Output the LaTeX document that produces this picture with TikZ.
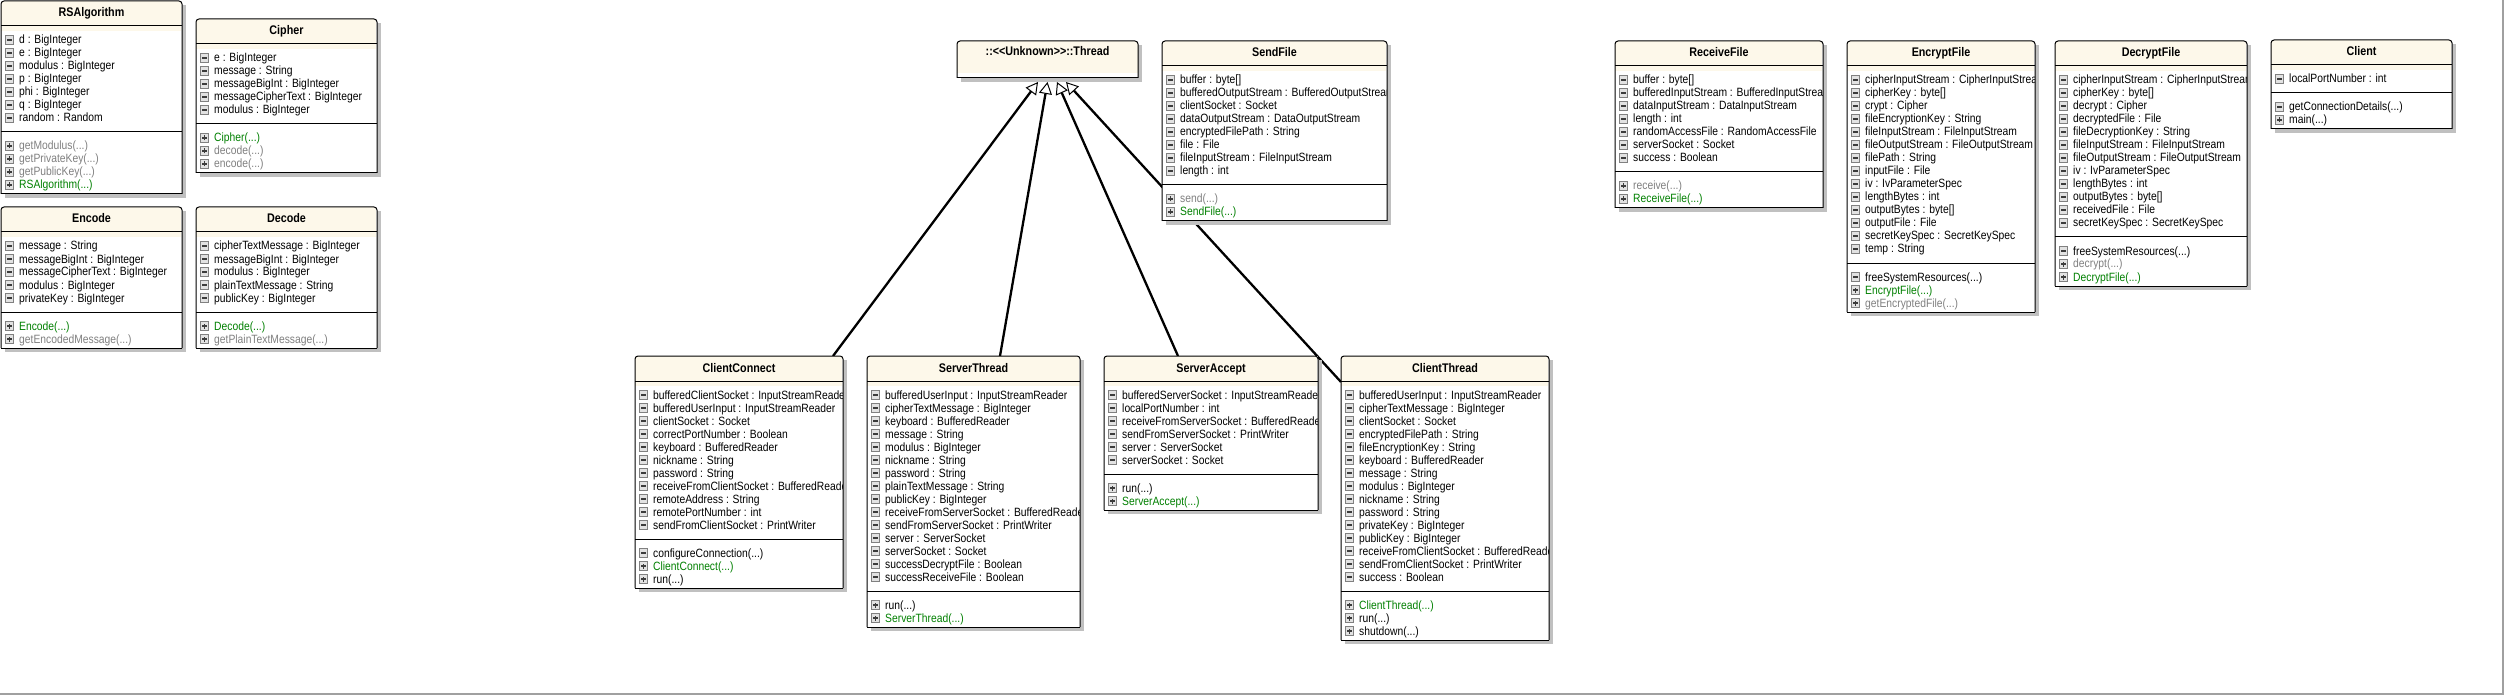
\documentclass[tikz,border=0pt]{standalone}
\usepackage{fontspec}
\setmainfont{Liberation Sans}[FakeStretch=0.86]
\usetikzlibrary{arrows.meta, backgrounds}

\definecolor{titlefill}{RGB}{253,248,234}
\definecolor{shadowgray}{RGB}{192,192,192}
\definecolor{mgreen}{RGB}{0,128,0}
\definecolor{mgray}{RGB}{128,128,128}
\definecolor{icondark}{RGB}{128,128,128}
\definecolor{iconfill}{RGB}{226,226,226}
\definecolor{signcol}{RGB}{60,60,60}
\definecolor{framegray}{RGB}{160,160,160}

\tikzset{
  classbox/.style={anchor=north west, fill=white, inner sep=0pt, outer sep=0pt},
  boxline/.style={draw=black, line width=1pt},
  titletext/.style={anchor=base, inner sep=0pt, font=\fontsize{12.5}{14}\selectfont\bfseries},
  member/.style={anchor=base west, inner sep=0pt, font=\fontsize{12}{14}\selectfont},
  iconm/.style={draw=icondark, fill=iconfill, line width=0.8pt, minimum size=8.5pt, inner sep=0pt,
    path picture={\draw[signcol, line width=1.2pt] ([xshift=-2.5pt]path picture bounding box.center) -- ([xshift=2.5pt]path picture bounding box.center);}},
  iconp/.style={draw=icondark, fill=iconfill, line width=0.8pt, minimum size=8.5pt, inner sep=0pt,
    path picture={\draw[signcol, line width=1.2pt] ([xshift=-2.5pt]path picture bounding box.center) -- ([xshift=2.5pt]path picture bounding box.center)
      ([yshift=-2.5pt]path picture bounding box.center) -- ([yshift=2.5pt]path picture bounding box.center);}},
  inherit/.style={line width=2.3pt, -{Triangle[line width=1pt, fill=white, length=12pt, width=13pt]}},
}

% argument dots of a method
\newcommand{\margs}{(...)}

% class box: name, left, top, width, title, attributes, methods (icon/colour/text)
\newcommand{\umlclass}[7]{%
  \foreach \tx [count=\k] in {#6} {\xdef\na{\k}}
  \foreach \tx [count=\k] in {#7} {\xdef\nm{\k}}
  \pgfmathsetmacro{\hh}{50+13*(\na+\nm)}
  \pgfmathsetmacro{\sy}{#3+40+13*\na}
  \fill[shadowgray] (#2+4,#3+4) rectangle (#2+#4+4,#3+\hh+4);
  \node[classbox, minimum width=#4pt, minimum height=\hh pt] (#1) at (#2,#3) {};
  \begin{scope}
    \clip[rounded corners=3pt] (#1.north west) rectangle ([xshift=-1pt]#1.south east);
    \fill[titlefill] (#1.north west) rectangle (#2+#4,#3+30);
    \node[titletext] (#1-title) at (#2+#4/2,#3+16) {#5};
    \foreach \tx [count=\k] in {#6} {
      \node[iconm] (#1-ia\k) at (#2+8.5,#3+26+13*\k) {};
      \node[member] (#1-a\k) at (#2+18,#3+30+13*\k) {\tx};
    }
    \foreach \ic/\col/\tx [count=\k] in {#7} {
      \node[icon\ic] (#1-im\k) at (#2+8.5,\sy+1+13*\k) {};
      \node[member, text=\col] (#1-m\k) at (#2+18,\sy+5+13*\k) {\tx};
    }
  \end{scope}
  \draw[boxline] (#2,#3+25) -- (#2+#4,#3+25);
  \draw[boxline] (#2,\sy) -- (#2+#4,\sy);
  \draw[boxline, rounded corners=3pt] (#1.south west) -- (#1.north west) -- (#1.north east) -- (#1.south east);
  \draw[boxline] (#1.south west) -- (#1.south east);
}

\begin{document}
\begin{tikzpicture}[x=1pt, y=-1pt]
  \useasboundingbox (0,0) rectangle (2506,695);

  % RSA classes
  \umlclass{RSAlgorithm}{1}{1}{181}{RSAlgorithm}
    {d : BigInteger, e : BigInteger, modulus : BigInteger, p : BigInteger, phi : BigInteger, q : BigInteger, random : Random}
    {p/mgray/getModulus\margs, p/mgray/getPrivateKey\margs, p/mgray/getPublicKey\margs, p/mgreen/RSAlgorithm\margs}
  \umlclass{Cipher}{196}{19}{181}{Cipher}
    {e : BigInteger, message : String, messageBigInt : BigInteger, messageCipherText : BigInteger, modulus : BigInteger}
    {p/mgreen/Cipher\margs, p/mgray/decode\margs, p/mgray/encode\margs}
  \umlclass{Encode}{1}{207}{181}{Encode}
    {message : String, messageBigInt : BigInteger, messageCipherText : BigInteger, modulus : BigInteger, privateKey : BigInteger}
    {p/mgreen/Encode\margs, p/mgray/getEncodedMessage\margs}
  \umlclass{Decode}{196}{207}{181}{Decode}
    {cipherTextMessage : BigInteger, messageBigInt : BigInteger, modulus : BigInteger, plainTextMessage : String, publicKey : BigInteger}
    {p/mgreen/Decode\margs, p/mgray/getPlainTextMessage\margs}

  % base class
  \fill[shadowgray] (961,45) rectangle (1142,82);
  \node[classbox, minimum width=181pt, minimum height=37pt] (Thread) at (957,41) {};
  \begin{scope}
    \clip[rounded corners=3pt] (Thread.north west) rectangle (Thread.south east);
    \fill[titlefill] (957,41) rectangle (1138,73);
  \end{scope}
  \node[titletext] (Thread-title) at (1047.5,56) {::<\kern0pt<Unknown>\kern0pt>::Thread};
  \draw[boxline, rounded corners=3pt] (Thread.south west) -- (Thread.north west) -- (Thread.north east) -- (Thread.south east);
  \draw[boxline] (Thread.south west) -- (Thread.south east);

  % file classes
  \umlclass{SendFile}{1162}{41}{225}{SendFile}
    {buffer : byte[], bufferedOutputStream : BufferedOutputStream, clientSocket : Socket, dataOutputStream : DataOutputStream, encryptedFilePath : String, file : File, fileInputStream : FileInputStream, length : int}
    {p/mgray/send\margs, p/mgreen/SendFile\margs}
  \umlclass{ReceiveFile}{1615}{41}{208}{ReceiveFile}
    {buffer : byte[], bufferedInputStream : BufferedInputStream, dataInputStream : DataInputStream, length : int, randomAccessFile : RandomAccessFile, serverSocket : Socket, success : Boolean}
    {p/mgray/receive\margs, p/mgreen/ReceiveFile\margs}
  \umlclass{EncryptFile}{1847}{41}{188}{EncryptFile}
    {cipherInputStream : CipherInputStream, cipherKey : byte[], crypt : Cipher, fileEncryptionKey : String, fileInputStream : FileInputStream, fileOutputStream : FileOutputStream, filePath : String, inputFile : File, iv : IvParameterSpec, lengthBytes : int, outputBytes : byte[], outputFile : File, secretKeySpec : SecretKeySpec, temp : String}
    {m/black/freeSystemResources\margs, p/mgreen/EncryptFile\margs, p/mgray/getEncryptedFile\margs}
  \umlclass{DecryptFile}{2055}{41}{192}{DecryptFile}
    {cipherInputStream : CipherInputStream, cipherKey : byte[], decrypt : Cipher, decryptedFile : File, fileDecryptionKey : String, fileInputStream : FileInputStream, fileOutputStream : FileOutputStream, iv : IvParameterSpec, lengthBytes : int, outputBytes : byte[], receivedFile : File, secretKeySpec : SecretKeySpec}
    {m/black/freeSystemResources\margs, p/mgray/decrypt\margs, p/mgreen/DecryptFile\margs}
  \umlclass{Client}{2271}{40}{181}{Client}
    {localPortNumber : int}
    {m/black/getConnectionDetails\margs, p/black/main\margs}

  % thread classes
  \umlclass{ClientConnect}{635}{356}{208}{ClientConnect}
    {bufferedClientSocket : InputStreamReader, bufferedUserInput : InputStreamReader, clientSocket : Socket, correctPortNumber : Boolean, keyboard : BufferedReader, nickname : String, password : String, receiveFromClientSocket : BufferedReader, remoteAddress : String, remotePortNumber : int, sendFromClientSocket : PrintWriter}
    {m/black/configureConnection\margs, p/mgreen/ClientConnect\margs, p/black/run\margs}
  \umlclass{ServerThread}{867}{356}{213}{ServerThread}
    {bufferedUserInput : InputStreamReader, cipherTextMessage : BigInteger, keyboard : BufferedReader, message : String, modulus : BigInteger, nickname : String, password : String, plainTextMessage : String, publicKey : BigInteger, receiveFromServerSocket : BufferedReader, sendFromServerSocket : PrintWriter, server : ServerSocket, serverSocket : Socket, successDecryptFile : Boolean, successReceiveFile : Boolean}
    {p/black/run\margs, p/mgreen/ServerThread\margs}
  \umlclass{ServerAccept}{1104}{356}{214}{ServerAccept}
    {bufferedServerSocket : InputStreamReader, localPortNumber : int, receiveFromServerSocket : BufferedReader, sendFromServerSocket : PrintWriter, server : ServerSocket, serverSocket : Socket}
    {p/black/run\margs, p/mgreen/ServerAccept\margs}
  \umlclass{ClientThread}{1341}{356}{208}{ClientThread}
    {bufferedUserInput : InputStreamReader, cipherTextMessage : BigInteger, clientSocket : Socket, encryptedFilePath : String, fileEncryptionKey : String, keyboard : BufferedReader, message : String, modulus : BigInteger, nickname : String, password : String, privateKey : BigInteger, publicKey : BigInteger, receiveFromClientSocket : BufferedReader, sendFromClientSocket : PrintWriter, success : Boolean}
    {p/mgreen/ClientThread\margs, p/black/run\margs, p/black/shutdown\margs}

  % inheritance
  \begin{scope}[on background layer]
    \draw[inherit] ([xshift=-10pt]ClientConnect.north east) -- ([xshift=-9.5pt,yshift=-4pt]Thread.south);
    \draw[inherit] ([xshift=26.5pt]ServerThread.north) -- ([xshift=0pt,yshift=-4pt]Thread.south);
    \draw[inherit] ([xshift=-33pt]ServerAccept.north) -- ([xshift=9.5pt,yshift=-4pt]Thread.south);
    \draw[inherit] ([yshift=-26pt]ClientThread.north west) -- ([xshift=18.5pt,yshift=-4pt]Thread.south);
  \end{scope}

  % page frame
  \draw[framegray, line width=2pt] (2503,0) -- (2503,694) -- (0,694);
\end{tikzpicture}
\end{document}
